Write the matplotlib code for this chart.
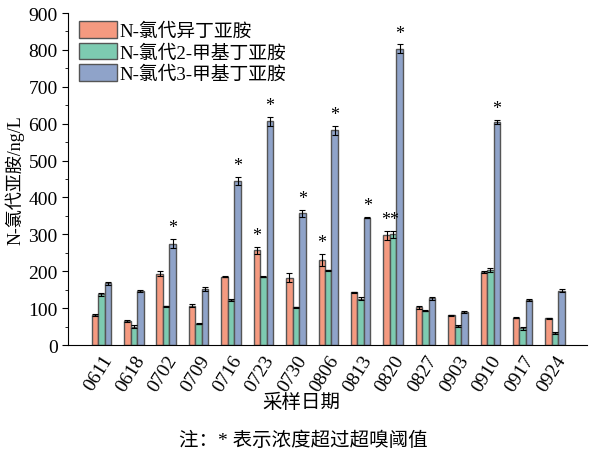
import matplotlib
matplotlib.use("Agg")
import matplotlib.pyplot as plt
import numpy as np
from matplotlib.ticker import MultipleLocator

plt.rcParams['font.family'] = ['Liberation Serif', 'Noto Sans CJK SC', 'DejaVu Sans']
plt.rcParams['axes.unicode_minus'] = False

dates = ['0611', '0618', '0702', '0709', '0716', '0723', '0730', '0806',
         '0813', '0820', '0827', '0903', '0910', '0917', '0924']
series_names = ['N-氯代异丁亚胺', 'N-氯代2-甲基丁亚胺', 'N-氯代3-甲基丁亚胺']
iso = [82, 65, 193, 107, 185, 257, 182, 230, 143, 298, 102, 80, 197, 74, 72]
iso_err = [3, 3, 7, 4, 2, 10, 12, 17, 2, 12, 4, 2, 3, 2, 2]
m2 = [137, 50, 105, 58, 122, 185, 102, 202, 125, 300, 93, 52, 203, 45, 33]
m2_err = [3, 3, 2, 2, 2, 2, 2, 2, 4, 10, 2, 2, 6, 3, 3]
m3 = [167, 147, 275, 152, 445, 607, 357, 582, 345, 803, 127, 90, 605, 122, 147]
m3_err = [4, 2, 12, 5, 10, 12, 10, 12, 2, 12, 4, 2, 6, 4, 4]
# asterisk flags (exceeds odor threshold)
iso_star = [0, 0, 0, 0, 0, 1, 0, 1, 0, 1, 0, 0, 0, 0, 0]
m2_star = [0, 0, 0, 0, 0, 0, 0, 0, 0, 1, 0, 0, 0, 0, 0]
m3_star = [0, 0, 1, 0, 1, 1, 1, 1, 1, 1, 0, 0, 1, 0, 0]

colors = ['#F59A80', '#7DCBB1', '#8FA3C9']
edge = '#555555'

fig = plt.figure(figsize=(5.94, 4.64), dpi=100)
ax = fig.add_axes([0.1145, 0.2543, 0.8735, 0.7155])

x = np.arange(len(dates))
w = 0.2
data = [(iso, iso_err), (m2, m2_err), (m3, m3_err)]
for i, (vals, errs) in enumerate(data):
    xs = x + (i - 1) * w
    ax.bar(xs, vals, w, color=colors[i], edgecolor=edge, linewidth=1.0,
           label=series_names[i], zorder=2)
    ax.errorbar(xs, vals, yerr=errs, fmt='none', ecolor='black',
                elinewidth=0.8, capsize=2, capthick=0.8, zorder=3)

# asterisks: adjacent red+green stars are written as one "**" label
for j in range(len(dates)):
    if iso_star[j] and m2_star[j]:
        top = max(iso[j] + iso_err[j], m2[j] + m2_err[j])
        ax.annotate('**', (x[j] - w / 2, top), xytext=(0, 2), textcoords='offset points',
                    ha='center', va='bottom', fontsize=13)
    else:
        if iso_star[j]:
            ax.annotate('*', (x[j] - w, iso[j] + iso_err[j]), xytext=(0, 2),
                        textcoords='offset points', ha='center', va='bottom', fontsize=13)
        if m2_star[j]:
            ax.annotate('*', (x[j], m2[j] + m2_err[j]), xytext=(0, 2),
                        textcoords='offset points', ha='center', va='bottom', fontsize=13)
    if m3_star[j]:
        ax.annotate('*', (x[j] + w, m3[j] + m3_err[j]), xytext=(0, 2),
                    textcoords='offset points', ha='center', va='bottom', fontsize=13)

ax.set_xlim(-1.03, 14.98)
ax.set_ylim(0, 900)
ax.yaxis.set_major_locator(MultipleLocator(100))
ax.yaxis.set_minor_locator(MultipleLocator(50))
ax.set_xticks(x)
ax.set_xticklabels(dates, rotation=58, ha='right', rotation_mode='anchor', fontsize=14)
ax.tick_params(axis='x', length=0, pad=5)
ax.tick_params(axis='y', which='major', length=4, labelsize=14, direction='out')
ax.tick_params(axis='y', which='minor', length=2, direction='out')
ax.spines['top'].set_visible(False)
ax.spines['right'].set_visible(False)
ax.set_ylabel('N-氯代亚胺/ng/L', fontsize=13, labelpad=3)
ax.set_xlabel('采样日期', fontsize=14)
ax.xaxis.set_label_coords(0.45, -0.145)

leg = ax.legend(loc='upper left', frameon=False, fontsize=13.5, handlelength=2.0,
                handleheight=1.0, handletextpad=0.15, labelspacing=0.15,
                borderaxespad=0.2, bbox_to_anchor=(0.0, 1.01))

fig.text(0.51, 0.05, '注：* 表示浓度超过超嗅阈值', ha='center', va='center', fontsize=14)

fig.savefig('out.png', dpi=100)
